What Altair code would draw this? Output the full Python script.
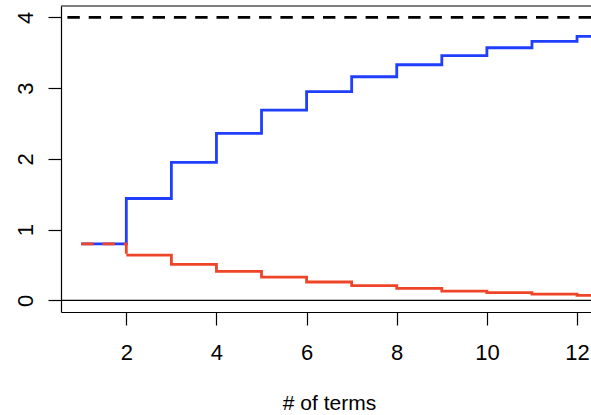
import altair as alt
import pandas as pd

# Number of terms in the series
n_terms = [1, 2, 3, 4, 5, 6, 7, 8, 9, 10, 11, 12, 13]
# Value of the n-th term
term_value = [0.80, 0.64, 0.51, 0.41, 0.33, 0.26, 0.21, 0.17, 0.13, 0.11, 0.09, 0.07, 0.055]
# Partial sum of the first n terms
partial_sum = [0.80, 1.44, 1.95, 2.36, 2.69, 2.95, 3.16, 3.33, 3.46, 3.57, 3.66, 3.73, 3.78]
# Limit of the series and the zero reference
limit_value = [4]
zero_value = [0]

x_ticks = [2, 4, 6, 8, 10, 12]
y_ticks = [0, 1, 2, 3, 4]

FONT = "Liberation Sans"
BLUE = "#1f3ffd"
RED = "#ee4427"

series = pd.DataFrame({"n": n_terms, "term": term_value, "total": partial_sum})
limit_df = pd.DataFrame({"level": limit_value})
zero_df = pd.DataFrame({"level": zero_value})

x_scale = alt.Scale(domain=[0.551, 12.31], nice=False, zero=False)
y_scale = alt.Scale(domain=[-0.164, 4.16], nice=False, zero=False)

x_axis = alt.Axis(
    values=x_ticks, title="# of terms", grid=False,
    tickSize=13, labelPadding=34, labelBaseline="alphabetic",
    labelFlush=False, labelOverlap=False,
    titleX=268, titleY=97, titleAlign="center", titleBaseline="alphabetic",
)
y_axis = alt.Axis(
    values=y_ticks, title=None, grid=False,
    tickSize=13, labelPadding=16, labelAngle=-90,
    labelAlign="center", labelBaseline="alphabetic",
    labelFlush=False, labelOverlap=False,
)

x_enc = alt.X("n:Q", scale=x_scale, axis=x_axis)

zero_line = alt.Chart(zero_df).mark_rule(color="black", strokeWidth=1.2).encode(
    y=alt.Y("level:Q", scale=y_scale, axis=y_axis)
)
limit_line = alt.Chart(limit_df).mark_rule(
    color="black", strokeWidth=2.8, strokeDash=[12.4, 8.9]
).encode(y=alt.Y("level:Q", scale=y_scale, axis=y_axis))

sum_line = alt.Chart(series).mark_line(
    interpolate="step-after", color=BLUE, strokeWidth=2.8, clip=True
).encode(x=x_enc, y=alt.Y("total:Q", scale=y_scale, axis=y_axis))

term_line = alt.Chart(series).transform_filter("datum.n >= 2").mark_line(
    interpolate="step-after", color=RED, strokeWidth=2.8, clip=True
).encode(x=x_enc, y=alt.Y("term:Q", scale=y_scale, axis=y_axis))

# first term coincides with the first partial sum: dashed so both show
term_first = alt.Chart(series).transform_filter("datum.n <= 2").mark_line(
    interpolate="step-after", color=RED, strokeWidth=2.8,
    strokeDash=[12.4, 8.9], clip=True
).encode(x=x_enc, y=alt.Y("term:Q", scale=y_scale, axis=y_axis))

top_border = alt.Chart(zero_df).mark_rule(color="black", strokeWidth=1.2).encode(
    y=alt.value(0)
)

chart = alt.layer(
    zero_line, limit_line, sum_line, term_line, term_first, top_border
).properties(
    width=530, height=306,
    autosize=alt.AutoSizeParams(type="none"),
    padding={"left": 61, "top": 6, "right": 0, "bottom": 103},
    background="white",
).configure_view(
    stroke=None
).configure_axis(
    domainColor="black", domainWidth=1.2,
    tickColor="black", tickWidth=1.2,
    labelFont=FONT, labelFontSize=22, labelColor="black",
    titleFont=FONT, titleFontSize=21, titleFontWeight="normal", titleColor="black",
)

chart.save("out.html", embed_options={"renderer": "svg", "actions": False})
